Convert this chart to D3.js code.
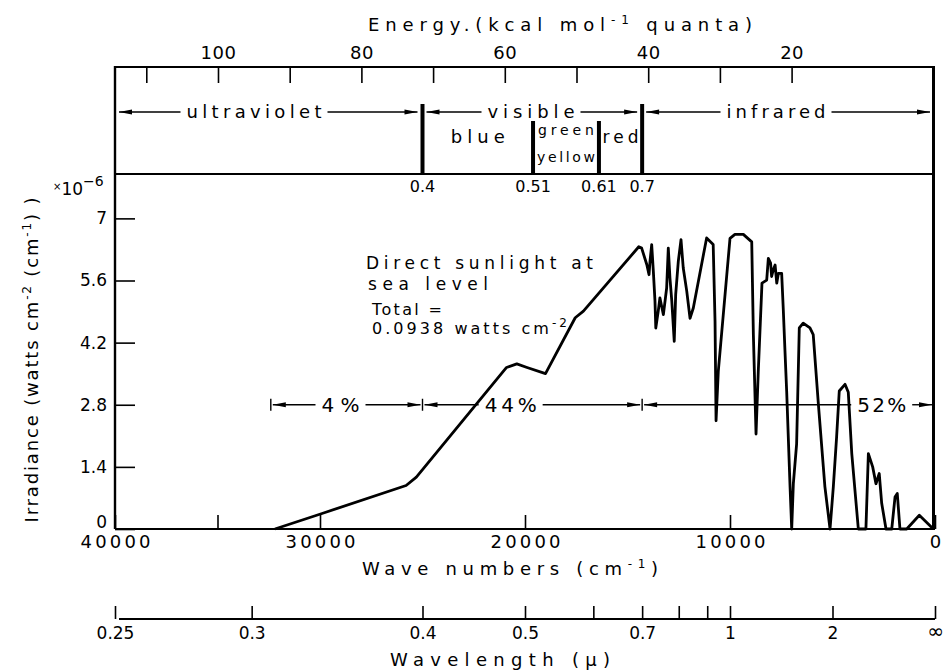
<!DOCTYPE html>
<html>
<head>
<meta charset="utf-8">
<style>
  body { margin: 0; background: #fff; }
  svg text { font-family: "DejaVu Sans", sans-serif; fill: #000; }
  .axis path, .axis line { stroke: #000; fill: none; }
  .axis line { stroke-width: 1.6px; }
  .axis path.domain { stroke-width: 2.2px; }
</style>
</head>
<body>
<svg id="chart" width="946" height="672"></svg>
<script src="https://cdn.jsdelivr.net/npm/d3@7"></script>
<script>
// spectrum of direct sunlight at sea level: wave number (cm-1), irradiance (x1e-6 W cm-2 (cm-1)-1)
var waveNumber = [32200, 29900, 25800, 25300, 20900, 20400, 19900, 19000, 17550, 17150,
  14450, 14310, 14060, 13950, 13900, 13820, 13740, 13660, 13620, 13500,
  13420, 13250, 13090, 13010, 12930, 12840, 12720, 12650, 12520, 12390,
  12280, 12110, 11950, 11790, 11140, 10820, 10730, 10680, 10570, 10000,
  9760, 9350, 8940, 8860, 8730, 8620, 8440, 8210, 8130, 8020,
  7970, 7890, 7800, 7720, 7640, 7480, 7400, 7320, 7235, 7070,
  6990, 6910, 6750, 6620, 6430, 6100, 5940, 5690, 5370, 5120,
  4960, 4800, 4670, 4390, 4230, 4060, 3740, 3370, 3250, 3040,
  2880, 2720, 2600, 2390, 2110, 1950, 1840, 1710, 1380, 765,
  80];
var irradiance = [0, 0.35, 0.98, 1.17, 3.64, 3.72, 3.64, 3.50, 4.76, 4.91,
  6.36, 6.33, 5.96, 5.73, 6.04, 6.41, 5.81, 5.14, 4.53, 4.91,
  5.21, 4.83, 5.43, 6.33, 5.66, 5.14, 4.23, 5.28, 6.04, 6.52,
  5.88, 5.36, 4.75, 4.98, 6.56, 6.41, 4.68, 2.44, 3.56, 6.55,
  6.64, 6.64, 6.47, 4.38, 2.14, 3.56, 5.54, 5.61, 6.10, 5.99,
  5.69, 5.84, 5.95, 5.54, 5.76, 5.76, 4.94, 4.03, 3.10, 0.95,
  0, 1.02, 1.92, 4.53, 4.64, 4.53, 4.38, 2.82, 0.95, 0,
  0.95, 2.07, 3.11, 3.26, 3.08, 1.70, 0, 0, 1.70, 1.40,
  1.02, 1.25, 0.58, 0, 0, 0.72, 0.80, 0, 0, 0.31,
  0];

var yTicks = [0, 1.4, 2.8, 4.2, 5.6, 7];
var wnTicks = [40000, 35000, 30000, 20000, 10000, 0];
var energyTicks = [110, 100, 90, 80, 70, 60, 50, 40, 30, 20];
var energyLabels = [100, 80, 60, 40, 20];
var wavelengthTicks = [0.25, 0.3, 0.4, 0.5, 0.6, 0.7, 0.8, 0.9, 1, 2, Infinity];
var wavelengthLabels = ["0.25", "0.3", "0.4", "0.5", "", "0.7", "", "", "1", "2", "\u221e"];

// spectral regions (wavelength in micron)
var regionNames = ["ultraviolet", "visible", "infrared"];
var regionFrom = [0.25, 0.4, 0.7];
var regionTo = [0.4, 0.7, Infinity];
var bandEdges = [0.4, 0.51, 0.61, 0.7];
var bandEdgeLabels = ["0.4", "0.51", "0.61", "0.7"];

// share of total energy (wave numbers)
var pctLabels = ["4 %", "44%", "52%"];
var pctFrom = [32400, 25000, 14286];
var pctTo = [25000, 14286, 0];
var pctAt = [29000, 20700, 2600];

var KCAL_PER_WN = 0.0028591;

var svg = d3.select("#chart");

var x = d3.scaleLinear().domain([40000, 0]).range([115, 935]);
var y = d3.scaleLinear().domain([0, 8]).range([529, 174]);
var xE = d3.scaleLinear().domain([40000 * KCAL_PER_WN, 0]).range([115, 935]);
function wl(l) { return l === Infinity ? 0 : 10000 / l; }

var topY = 67, midY = 174, baseY = 529;

// frame
svg.append("line").attr("x1", 115).attr("x2", 934).attr("y1", topY).attr("y2", topY)
  .attr("stroke", "#000").attr("stroke-width", 2.2);
svg.append("line").attr("x1", 115).attr("x2", 934).attr("y1", midY).attr("y2", midY)
  .attr("stroke", "#000").attr("stroke-width", 2.2);
svg.append("line").attr("x1", 115).attr("x2", 115).attr("y1", topY - 1).attr("y2", baseY)
  .attr("stroke", "#000").attr("stroke-width", 2.4);
svg.append("line").attr("x1", 933.5).attr("x2", 933.5).attr("y1", topY - 1).attr("y2", baseY)
  .attr("stroke", "#000").attr("stroke-width", 3);

// energy axis
var eAxis = svg.append("g").attr("class", "axis").attr("transform", "translate(0," + topY + ")")
  .call(d3.axisTop(xE).tickValues(energyTicks).tickSizeInner(-16).tickSizeOuter(0).tickPadding(8)
    .tickFormat(function(d) { return energyLabels.indexOf(d) >= 0 ? d : ""; }));
eAxis.select(".domain").remove();
eAxis.selectAll("text").style("font-size", "18px").attr("letter-spacing", 0.5);

svg.append("text").attr("x", 560).attr("y", 31).attr("text-anchor", "middle")
  .attr("textLength", 384).style("font-size", "18px")
  .html('Energy.(kcal  mol<tspan dy="-7" font-size="12">-1</tspan><tspan dy="7"> quanta)</tspan>');

// region arrows
function arrowHead(g, px, py, dir) {
  g.append("path")
    .attr("d", "M" + px + "," + py + "L" + (px - dir * 13) + "," + (py - 2.6) + "L" + (px - dir * 13) + "," + (py + 2.6) + "Z")
    .attr("fill", "#000");
}
function spanArrow(g, x0, x1, ay, label, lx, size, tl) {
  var t = g.append("text").attr("x", lx).attr("y", ay + size * 0.36).attr("text-anchor", "middle")
    .style("font-size", size + "px").text(label);
  if (tl) t.attr("textLength", tl);
  var w = tl || t.node().getComputedTextLength();
  var a = lx - w / 2 - 6, b = lx + w / 2 + 6;
  g.append("line").attr("x1", x0).attr("x2", a).attr("y1", ay).attr("y2", ay).attr("stroke", "#000").attr("stroke-width", 1.4);
  g.append("line").attr("x1", b).attr("x2", x1).attr("y1", ay).attr("y2", ay).attr("stroke", "#000").attr("stroke-width", 1.4);
  arrowHead(g, x0, ay, -1);
  arrowHead(g, x1, ay, 1);
}

var regionG = svg.append("g");
var regionCentres = [254, 531, 776];
var regionWidths = [135, 87, 99];
regionNames.forEach(function(n, i) {
  spanArrow(regionG, x(wl(regionFrom[i])) + 4, x(wl(regionTo[i])) - 5, 112, n, regionCentres[i], 18, regionWidths[i]);
});

svg.selectAll(".band").data(bandEdges).enter().append("line")
  .attr("x1", function(d) { return x(wl(d)); }).attr("x2", function(d) { return x(wl(d)); })
  .attr("y1", function(d, i) { return (i === 0 || i === 3) ? 104 : 121; }).attr("y2", midY)
  .attr("stroke", "#000").attr("stroke-width", 4);

svg.selectAll(".bandlab").data(bandEdgeLabels).enter().append("text")
  .attr("x", function(d, i) { return x(wl(bandEdges[i])); })
  .attr("y", 192).attr("text-anchor", "middle").style("font-size", "16px")
  .text(function(d) { return d; });

function midOf(a, b) { return (x(wl(a)) + x(wl(b))) / 2; }
svg.append("text").attr("x", midOf(0.4, 0.51)).attr("y", 143).attr("text-anchor", "middle")
  .style("font-size", "18px").attr("textLength", 54).text("blue");
svg.append("text").attr("x", midOf(0.51, 0.61)).attr("y", 135).attr("text-anchor", "middle")
  .style("font-size", "14px").attr("textLength", 56).text("green");
svg.append("text").attr("x", midOf(0.51, 0.61)).attr("y", 162).attr("text-anchor", "middle")
  .style("font-size", "14px").attr("textLength", 58).text("yellow");
svg.append("text").attr("x", midOf(0.61, 0.7)).attr("y", 143).attr("text-anchor", "middle")
  .style("font-size", "17px").attr("textLength", 36).text("red");

// irradiance axis
var yAxis = svg.append("g").attr("class", "axis").attr("transform", "translate(115,0)")
  .call(d3.axisLeft(y).tickValues(yTicks).tickSizeInner(-20).tickSizeOuter(0).tickPadding(8)
    .tickFormat(function(d) { return d; }));
yAxis.select(".domain").remove();
yAxis.selectAll("text").style("font-size", "17px");
yAxis.selectAll(".tick").filter(function(d) { return d === 0; }).select("text").attr("dy", "-0.1em");

svg.append("text").attr("x", 53).attr("y", 195).style("font-size", "17px")
  .html('<tspan font-size="10" dy="-5">\u00d7</tspan><tspan dy="5">10</tspan><tspan font-size="14" dy="-9">\u22126</tspan>');

svg.append("text").attr("transform", "translate(38,360) rotate(-90)").attr("text-anchor", "middle")
  .attr("textLength", 325).style("font-size", "18px")
  .html('Irradiance  (watts cm<tspan dy="-7" font-size="12">-2</tspan><tspan dy="7"> (cm</tspan><tspan dy="-7" font-size="12">-1</tspan><tspan dy="7">)  )</tspan>');

// wave number axis
var xAxis = svg.append("g").attr("class", "axis").attr("transform", "translate(0," + baseY + ")")
  .call(d3.axisBottom(x).tickValues(wnTicks).tickSizeInner(-14).tickSizeOuter(0).tickPadding(6)
    .tickFormat(function(d) { return d % 10000 === 0 ? d : ""; }));
xAxis.selectAll("text").style("font-size", "18px").attr("textLength", function(d) { return d === 0 ? null : 70; });
xAxis.select(".domain").attr("d", "M115,0H935");

svg.append("text").attr("x", 510).attr("y", 575).attr("text-anchor", "middle")
  .attr("textLength", 296).style("font-size", "18px")
  .html('Wave  numbers  (cm<tspan dy="-7" font-size="12">-1</tspan><tspan dy="7">)</tspan>');

// wavelength axis
var lAxis = svg.append("g").attr("class", "axis").attr("transform", "translate(0,619)")
  .call(d3.axisBottom(x).tickValues(wavelengthTicks.map(wl)).tickSizeInner(-13).tickSizeOuter(0).tickPadding(8)
    .tickFormat(function(d, i) { return wavelengthLabels[i]; }));
lAxis.selectAll("text").style("font-size", "17px");
lAxis.selectAll(".tick").filter(function(d, i) { return i === 10; }).select("text").style("font-size", "20px").attr("dy", "0.55em");
lAxis.select(".domain").attr("d", "M119,0H935");

svg.append("text").attr("x", 500).attr("y", 666).attr("text-anchor", "middle")
  .attr("textLength", 220).style("font-size", "18px").text("Wavelength  (\u03bc)");

// percentage spans
var pctG = svg.append("g");
var pctY = y(2.8);
var pctWidths = [38, 52, 49];
pctLabels.forEach(function(n, i) {
  var x0 = x(pctFrom[i]), x1 = x(pctTo[i]);
  pctG.append("line").attr("x1", x0).attr("x2", x0).attr("y1", pctY - 6).attr("y2", pctY + 6)
    .attr("stroke", "#000").attr("stroke-width", 1.4);
  spanArrow(pctG, x0 + 2, x1 - (i === 2 ? 3 : 2), pctY, n, x(pctAt[i]), 20, pctWidths[i]);
});

// annotation
var note = svg.append("g").style("font-size", "17px");
note.append("text").attr("x", 366).attr("y", 269).attr("textLength", 227).text("Direct sunlight at");
note.append("text").attr("x", 368).attr("y", 290).attr("textLength", 120).text("sea level");
note.append("text").attr("x", 372).attr("y", 315).attr("textLength", 70).style("font-size", "16px").text("Total =");
note.append("text").attr("x", 372).attr("y", 334).attr("textLength", 195).style("font-size", "16px")
  .html('0.0938 watts cm<tspan dy="-7" font-size="12">-2</tspan>');

// spectrum
var line = d3.line()
  .x(function(d, i) { return x(waveNumber[i]); })
  .y(function(d) { return y(d); });
svg.append("path").datum(irradiance)
  .attr("d", line)
  .attr("fill", "none").attr("stroke", "#000").attr("stroke-width", 2.8)
  .attr("stroke-linejoin", "round");
</script>
</body>
</html>
